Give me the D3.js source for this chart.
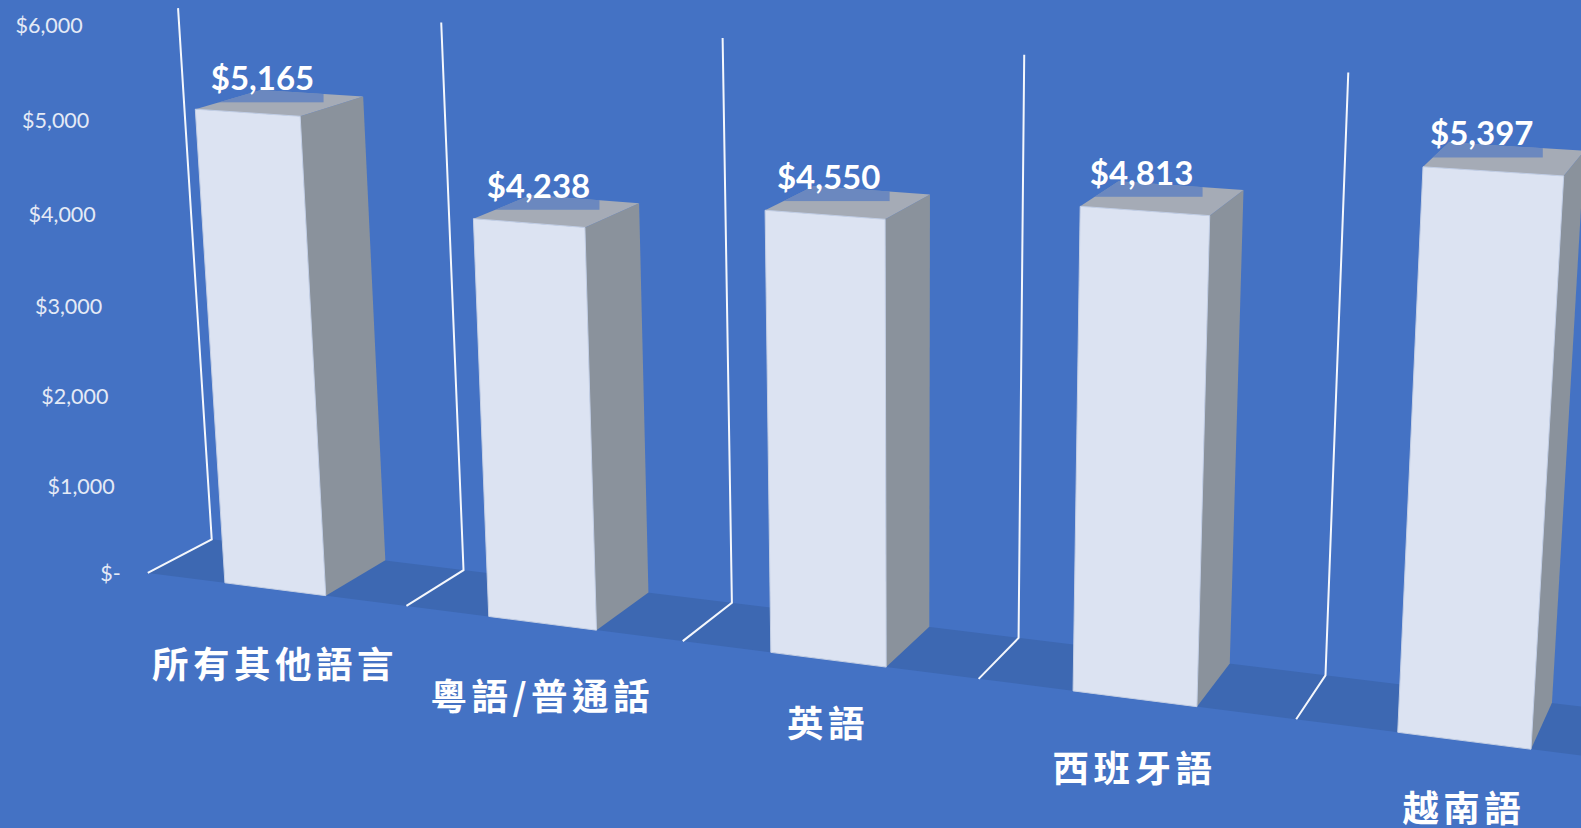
<!DOCTYPE html>
<html lang="zh-Hant">
<head>
    <meta charset="utf-8">
    <title>3D 長條圖</title>
    <script src="https://d3js.org/d3.v7.min.js"></script>
    <style>
        html, body {
            margin: 0;
            padding: 0;
            background: #4472C4;
            overflow: hidden;
        }
        svg { display: block; }
        .tick-label {
            font-family: Lato, sans-serif;
            font-size: 21.5px;
            fill: #E4EAF6;
            text-anchor: end;
        }
        .value-label {
            font-family: Lato, sans-serif;
            font-size: 33px;
            font-weight: 700;
            fill: #fff;
            text-anchor: middle;
        }
        .cat-label {
            font-family: "Noto Sans CJK TC", sans-serif;
            font-size: 36.5px;
            font-weight: 700;
            letter-spacing: 4.5px;
            fill: #fff;
            text-anchor: middle;
        }
    </style>
</head>
<body>
    <svg id="chart" width="1581" height="828"></svg>

    <script>
        // Data
        const categories = ["所有其他語言", "粵語/普通話", "英語", "西班牙語", "越南語"];
        const values = [5165, 4238, 4550, 4813, 5397];
        const tickValues = [0, 1000, 2000, 3000, 4000, 5000, 6000];
        const tickLabels = ["$-", "$1,000", "$2,000", "$3,000", "$4,000", "$5,000", "$6,000"];

        const svg = d3.select("#chart");

        // Perspective camera: origin is the front-left foot of the first bar,
        // the three points are where each world axis vanishes on screen
        const origin = [224.9, 582.8];
        const vanishX = [-7680, -424.5];
        const vanishY = [912.5, 11595];
        const vanishZ = [2066, -435.6];
        const perX = -0.0323, perZ = 0.035;

        // Category position (world units, one step per category)
        const x = d3.scaleBand()
            .domain(categories)
            .range([-0.305, 4.695])
            .paddingInner(0.61)
            .paddingOuter(0.305);
        const step = x.step();
        const gridStart = x(categories[0]) - (step - x.bandwidth()) / 2;

        // Value to height weight in the projection
        const y = d3.scaleLinear().domain([0, 6000]).range([0, -0.0479]);

        const BAR_DEPTH = 1, WALL_DEPTH = 0.995;

        function project(t, v, d) {
            const at = perX * t, bv = y(v), cd = perZ * d;
            const w = 1 + at + bv + cd;
            return [
                (origin[0] + at * vanishX[0] + bv * vanishY[0] + cd * vanishZ[0]) / w,
                (origin[1] + at * vanishX[1] + bv * vanishY[1] + cd * vanishZ[1]) / w
            ];
        }

        const poly = d3.line().curve(d3.curveLinearClosed);

        // Floor strip
        svg.append("path")
            .attr("d", poly([
                project(gridStart, 0, 0),
                project(gridStart, 0, WALL_DEPTH),
                project(gridStart + step * 5.6, 0, WALL_DEPTH),
                project(gridStart + step * 5.6, 0, 0)
            ]))
            .attr("fill", "#3D68B2");

        // Separators: floor tick and back wall riser
        const separators = d3.range(categories.length).map(i => gridStart + i * step);
        svg.selectAll(".separator")
            .data(separators)
            .enter().append("path")
            .attr("class", "separator")
            .attr("d", t => d3.line()([
                project(t, 0, 0),
                project(t, 0, WALL_DEPTH),
                project(t, 6000, WALL_DEPTH)
            ]))
            .attr("fill", "none")
            .attr("stroke", "#F4F7FC")
            .attr("stroke-width", 2);

        // Axis labels
        svg.selectAll(".tick-label")
            .data(tickValues)
            .enter().append("text")
            .attr("class", "tick-label")
            .attr("x", d => project(gridStart, d, 0)[0] - 27)
            .attr("y", d => project(gridStart, d, 0)[1] + 8.5)
            .text((d, i) => tickLabels[i]);

        // Bars
        const defs = svg.append("defs");
        const bars = svg.selectAll(".bar")
            .data(categories.map((c, i) => ({ name: c, value: values[i], i })))
            .enter().append("g")
            .attr("class", "bar");

        bars.each(function (d) {
            const g = d3.select(this);
            const t0 = x(d.name), t1 = t0 + x.bandwidth();
            const top = [
                project(t0, d.value, 0),
                project(t1, d.value, 0),
                project(t1, d.value, BAR_DEPTH),
                project(t0, d.value, BAR_DEPTH)
            ];
            g.append("path")
                .attr("d", poly([project(t1, 0, 0), project(t1, 0, BAR_DEPTH), top[2], top[1]]))
                .attr("fill", "#8A929C");
            g.append("path")
                .attr("d", poly(top))
                .attr("fill", "#A5ABB6");
            g.append("path")
                .attr("d", poly([project(t0, 0, 0), project(t1, 0, 0), top[1], top[0]]))
                .attr("fill", "#DCE3F2")
                .attr("stroke", "#C4CFE4")
                .attr("stroke-width", 1);

            // Value label, its box tints the top face of the bar
            const anchor = project((t0 + t1) / 2, d.value, 0.63);
            const lx = anchor[0] - 26, ly = anchor[1] - 22;
            defs.append("clipPath").attr("id", "top-" + d.i)
                .append("path").attr("d", poly(top));
            g.append("rect")
                .attr("x", lx - 61)
                .attr("y", ly - 28)
                .attr("width", 122)
                .attr("height", 52)
                .attr("clip-path", `url(#top-${d.i})`)
                .attr("fill", "#4472C4")
                .attr("fill-opacity", 0.6);
            g.append("text")
                .attr("class", "value-label")
                .attr("x", lx)
                .attr("y", ly + 12)
                .text(d3.format("$,")(d.value));
        });

        // Category labels sit under the feet of the bars
        const catDrop = [75, 73, 63, 69, 67];
        svg.selectAll(".cat-label")
            .data(categories)
            .enter().append("text")
            .attr("class", "cat-label")
            .attr("x", d => project(x(d) + x.bandwidth() / 2, 0, 0)[0])
            .attr("y", (d, i) => project(x(d) + x.bandwidth() / 2, 0, 0)[1] + catDrop[i] + 14)
            .text(d => d);
    </script>
</body>
</html>
